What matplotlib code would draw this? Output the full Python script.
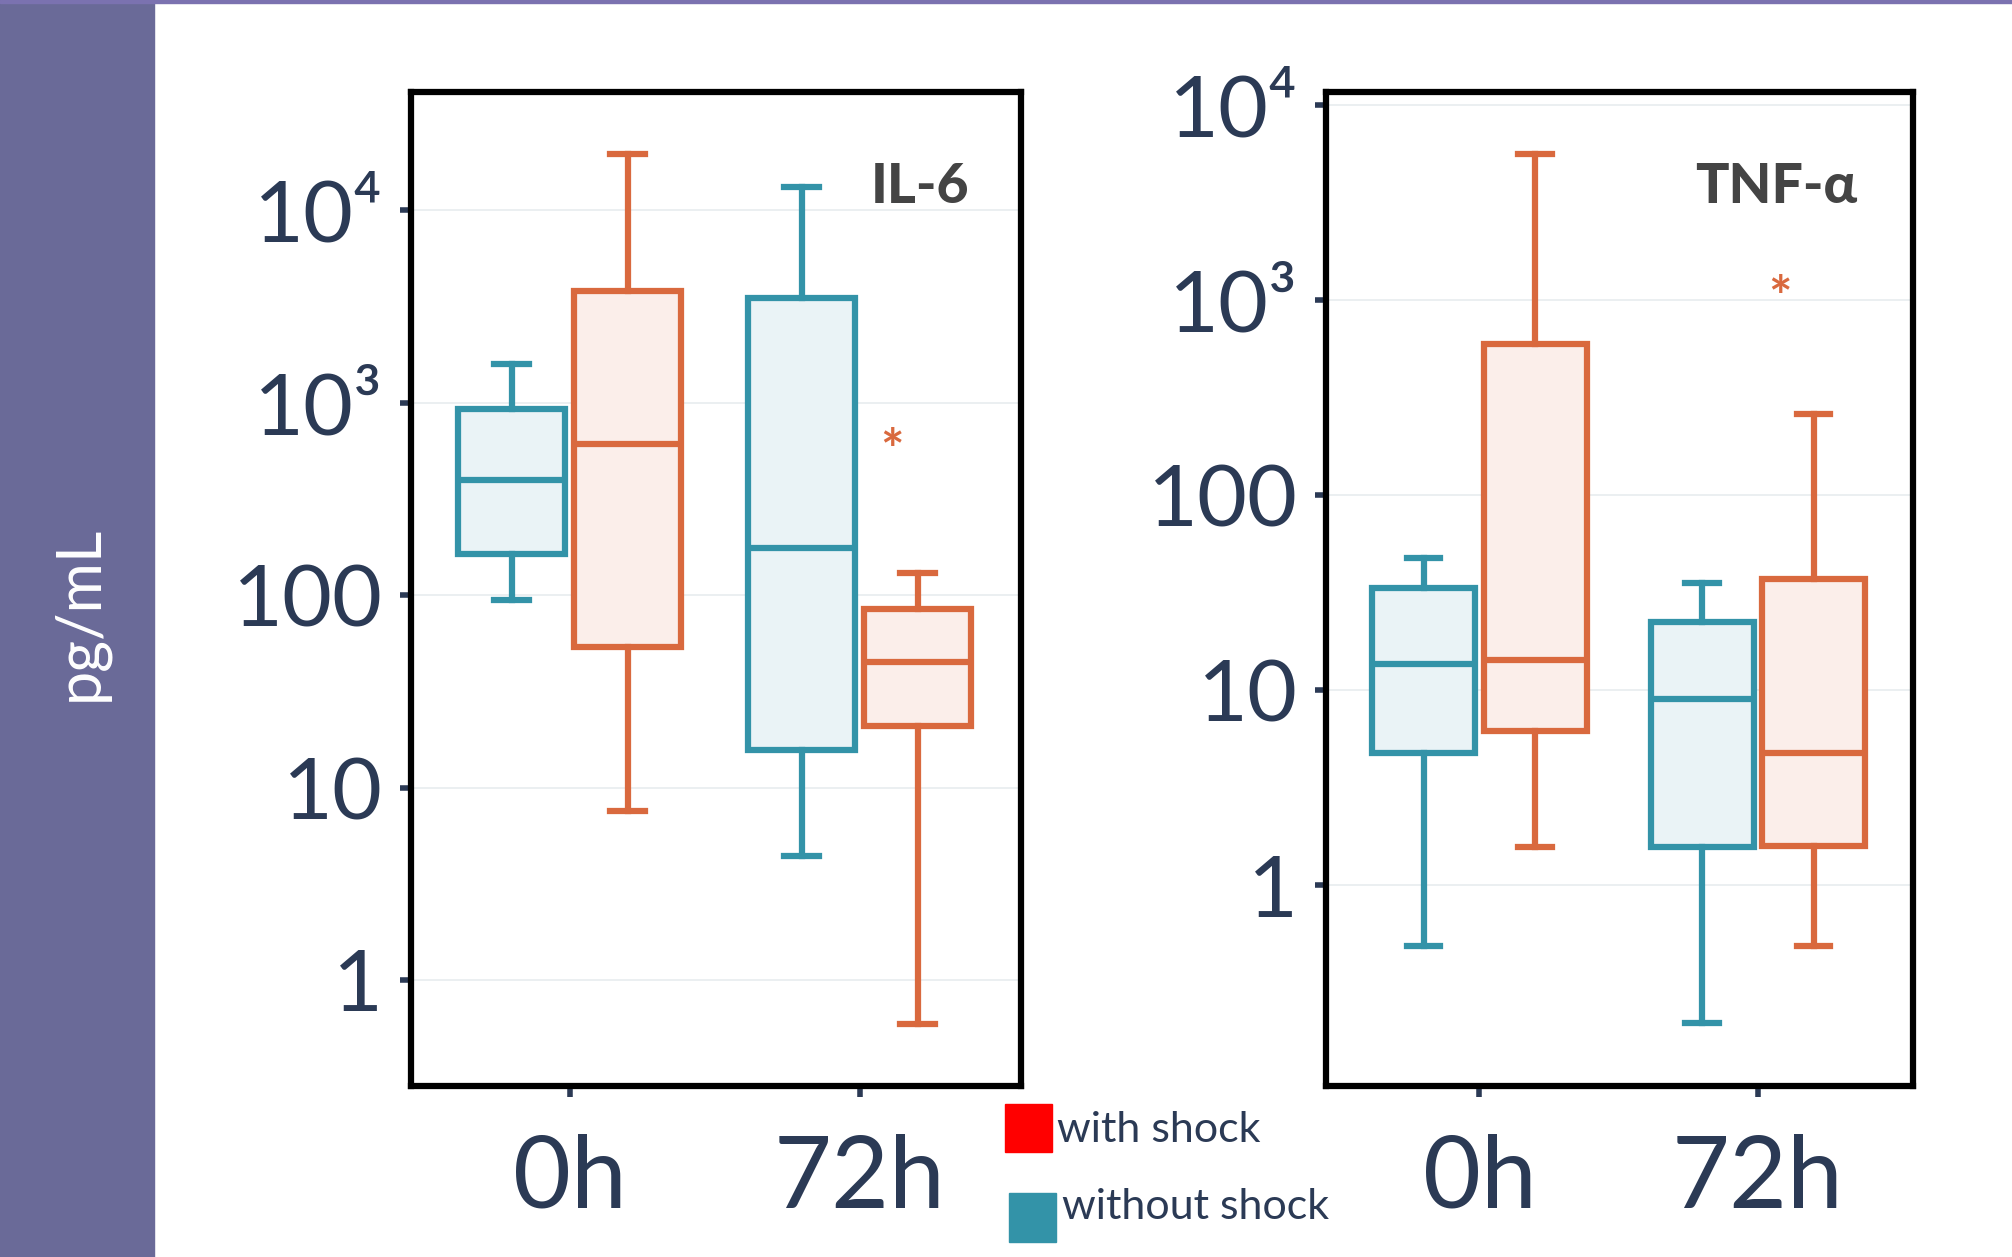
import matplotlib
matplotlib.use("Agg")
import matplotlib.pyplot as plt
from matplotlib.patches import Rectangle
import numpy as np

plt.rcParams['font.family'] = ['Lato', 'DejaVu Sans']

groups = ["0h", "72h"]
# stats: (whislo, q1, med, q3, whishi)
il6_without = [(94, 163, 398, 926, 1585), (4.4, 15.6, 176, 3520, 13200)]
il6_with = [(7.6, 54, 612, 3800, 19700), (0.59, 20.9, 45, 84.5, 130)]
tnf_without = [(0.49, 4.76, 13.7, 33.6, 48), (0.198, 1.57, 9.0, 22.3, 35.7)]
tnf_with = [(1.57, 6.16, 14.4, 597, 5620), (0.49, 1.6, 4.8, 37.3, 260)]
il6_ticks = [1, 10, 100, 1000, 10000]
il6_ticklabels = ["1", "10", "100", "10³", "10⁴"]
tnf_ticks = [1, 10, 100, 1000, 10000]
tnf_ticklabels = ["1", "10", "100", "10³", "10⁴"]

teal = "#3393a8"; orange = "#d9693e"
teal_f = "#eaf3f6"; orange_f = "#fbeeea"
navy = "#2b3a55"

fig = plt.figure(figsize=(20.12, 12.57), dpi=100)
fig.patches.append(Rectangle((0, 0), 120/1568, 1, transform=fig.transFigure,
                             color="#6a6a98", zorder=0))
fig.patches.append(Rectangle((0, 0.998), 1, 0.002, transform=fig.transFigure,
                             color="#7b72b0", zorder=0))
fig.text(62/1568, 1-478/980, "pg/mL", rotation=90, color="white",
         fontsize=44, ha="center", va="center")

def panel(rect, without, with_, ylim, ticks, labels, title, tx, star, xlim):
    ax = fig.add_axes(rect)
    for data, off, col, fc in [(without, -0.2, teal, teal_f), (with_, 0.2, orange, orange_f)]:
        stats = [dict(whislo=d[0], q1=d[1], med=d[2], q3=d[3], whishi=d[4], fliers=[])
                 for d in data]
        ax.bxp(stats, positions=[0 + off, 1 + off], widths=0.37, patch_artist=True,
               showfliers=False, capwidths=0.12,
               boxprops=dict(facecolor=fc, edgecolor=col, linewidth=4.5),
               medianprops=dict(color=col, linewidth=4.5),
               whiskerprops=dict(color=col, linewidth=4.5),
               capprops=dict(color=col, linewidth=4.5))
    ax.set_yscale("log")
    ax.set_ylim(*ylim)
    ax.set_xlim(*xlim)
    ax.set_yticks(ticks)
    ax.set_yticklabels(labels)
    ax.minorticks_off()
    ax.set_xticks([0, 1])
    ax.set_xticklabels(groups)
    ax.tick_params(axis="y", labelsize=62, labelcolor=navy, length=8, width=4, color=navy, pad=12)
    ax.tick_params(axis="x", labelsize=72, labelcolor=navy, length=8, width=4, color=navy, pad=26)
    for t in ticks:
        ax.axhline(t, color="#e8ecef", lw=1.2, zorder=0)
    for s in ax.spines.values():
        s.set_linewidth(4.5); s.set_color("black")
    ax.text(tx[0], tx[1], title, transform=ax.transAxes, fontsize=40,
            fontweight="black", color="#444444", ha="right", va="center")
    ax.text(star[0], star[1], "*", color=orange, fontsize=40, fontweight="bold",
            ha="center", va="center")
    return ax

panel([320/1568, 1-847/980, 476/1568, 775/980], il6_without, il6_with,
      (10**-0.553, 10**4.613), il6_ticks, il6_ticklabels, "IL-6", (0.915, 0.905),
      (1.111, 550), (-0.549, 1.558))
panel([1033/1568, 1-847/980, 458/1568, 775/980], tnf_without, tnf_with,
      (10**-1.03, 10**4.066), tnf_ticks, tnf_ticklabels, "TNF-α", (0.905, 0.905),
      (1.078, 1000), (-0.553, 1.558))

fig.patches.append(Rectangle((783/1568, 1-898/980), 37/1568, 37/980,
                             transform=fig.transFigure, color="#ff0000"))
fig.patches.append(Rectangle((786/1568, 1-968/980), 37/1568, 38/980,
                             transform=fig.transFigure, color=teal))
fig.text(824/1568, 1-881/980, "with shock", fontsize=31, color=navy, va="center")
fig.text(828/1568, 1-941/980, "without shock", fontsize=31, color=navy, va="center")

fig.savefig("out.png", dpi=100, facecolor="white")
